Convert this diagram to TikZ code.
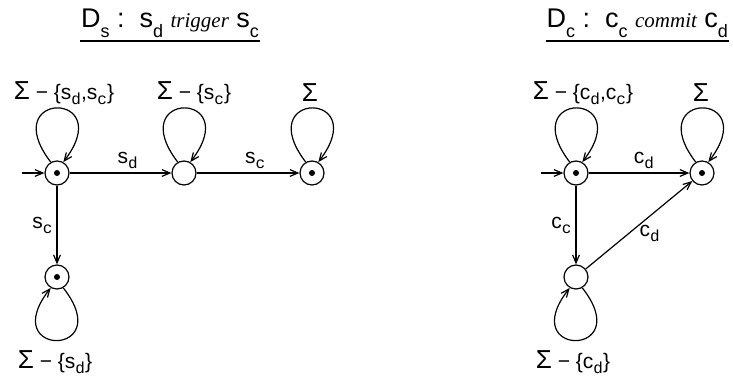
\documentclass[tikz,border=0pt]{standalone}
\usepackage{fontspec}
\setmainfont{Liberation Sans}
\newfontfamily\timesfont{Liberation Serif}
\newfontfamily\courfont{Liberation Mono}
\usetikzlibrary{arrows.meta}

\newcommand{\lsub}[1]{\raisebox{-0.45ex}{\courfont\fontsize{8}{8}\selectfont #1}}
\newcommand{\tsub}[1]{\raisebox{-0.7ex}{\fontsize{9}{9}\selectfont #1}}
\newcommand{\Sig}{{\fontsize{13}{13}\selectfont Σ}}
\newcommand{\opname}[1]{{\timesfont\itshape\fontsize{10.5}{10.5}\selectfont #1}}

\begin{document}
\begin{tikzpicture}[x=0.5pt, y=-0.5pt, line width=0.6pt,
    >={Straight Barb[length=4pt, width=3.4pt]},
    state/.style={circle, draw, minimum size=12pt, inner sep=0pt},
    acc/.style={state, path picture={\fill (path picture bounding box.center) circle (1.5pt);}},
    lbl/.style={font=\fontsize{10.5}{10.5}\selectfont, inner sep=1pt},
    ttl/.style={font=\fontsize{13.5}{13.5}\selectfont, inner sep=0pt}]
    \path[use as bounding box, clip] (0,0) rectangle (733,379);

    % titles
    \node[ttl, anchor=base] (ts) at (170,28) {D\tsub{s}\ :\ \ s\tsub{d}\ \opname{trigger}\ s\tsub{c}};
    \draw ([yshift=-6.5pt]ts.base west) -- ([yshift=-6.5pt]ts.base east);
    \node[ttl, anchor=base west] (tc) at (546,28) {D\tsub{c}\ :\ \ c\tsub{c}\ \opname{commit}\ c\tsub{d}};
    \draw ([yshift=-6.5pt]tc.base west) -- ([yshift=-6.5pt]tc.base east);

    % D_s
    \node[acc] (q0) at (57,173) {};
    \node[state] (q1) at (184,173) {};
    \node[acc] (q2) at (312,173) {};
    \node[acc] (q3) at (57,277) {};
    \coordinate (i0) at (22,173);
    \draw[->] (i0) -- (q0);
    \draw[->] (q0) -- node[lbl, above, pos=0.57, yshift=1pt] {s\lsub{d}} (q1);
    \draw[->] (q1) -- node[lbl, above, pos=0.57, yshift=1pt] {s\lsub{c}} (q2);
    \draw[->] (q0) -- node[lbl, left, xshift=-1pt] {s\lsub{c}} (q3);
    \draw[->] (q0.120) .. controls +(-55,-72) and +(55,-72) .. (q0.60);
    \draw[->] (q1.120) .. controls +(-55,-72) and +(55,-72) .. (q1.60);
    \draw[->] (q2.120) .. controls +(-55,-72) and +(55,-72) .. (q2.60);
    \draw[->] (q3.300) .. controls +(55,70) and +(-55,70) .. (q3.240);
    \node[lbl] (l0) at (64,93) {\Sig\ − \{s\lsub{d},s\lsub{c}\}};
    \node[lbl] (l1) at (194,93) {\Sig\ − \{s\lsub{c}\}};
    \node[lbl] (l2) at (310,93) {\Sig};
    \node[lbl] (l3) at (55,362) {\Sig\ − \{s\lsub{d}\}};

    % D_c
    \node[acc] (p0) at (576,173) {};
    \node[acc] (p1) at (702,173) {};
    \node[state] (p2) at (576,277) {};
    \coordinate (i1) at (541,173);
    \draw[->] (i1) -- (p0);
    \draw[->] (p0) -- node[lbl, above, pos=0.55, yshift=1pt] {c\lsub{d}} (p1);
    \draw[->] (p0) -- node[lbl, left, xshift=-1pt] {c\lsub{c}} (p2);
    \draw[->] (p2) -- node[lbl, below right, pos=0.5, inner sep=0pt] {c\lsub{d}} (p1);
    \draw[->] (p0.120) .. controls +(-55,-72) and +(55,-72) .. (p0.60);
    \draw[->] (p1.120) .. controls +(-55,-72) and +(55,-72) .. (p1.60);
    \draw[->] (p2.300) .. controls +(55,70) and +(-55,70) .. (p2.240);
    \node[lbl] (m0) at (583,93) {\Sig\ − \{c\lsub{d},c\lsub{c}\}};
    \node[lbl] (m1) at (701,93) {\Sig};
    \node[lbl] (m2) at (573,362) {\Sig\ − \{c\lsub{d}\}};
\end{tikzpicture}
\end{document}
